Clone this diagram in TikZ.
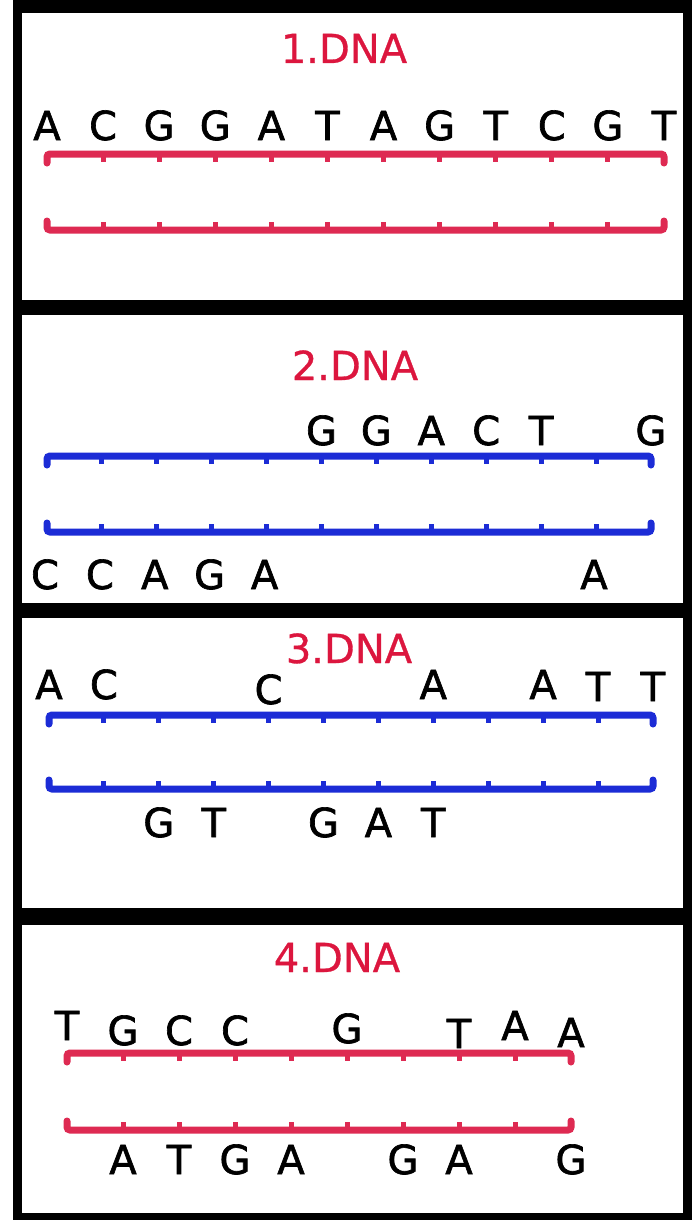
\documentclass[tikz,border=0pt]{standalone}
\usepackage{fontspec}
\newfontfamily\dnafont[FakeBold=1.6]{DejaVu Sans}
\newfontfamily\dnatitlefont[FakeBold=0.8]{DejaVu Sans}
\definecolor{dnared}{RGB}{222,42,82}
\definecolor{titlered}{RGB}{220,22,62}
\definecolor{dnablue}{RGB}{28,44,214}
\tikzset{
  strandline/.style={line width=7pt,line cap=round,rounded corners=3pt},
  strandtick/.style={line width=5pt},
  letter/.style={font=\dnafont\fontsize{40}{40}\selectfont,anchor=base,inner sep=0pt,text=black},
  title/.style={font=\dnatitlefont\fontsize{40}{40}\selectfont,anchor=base,inner sep=0pt,text=titlered},
  panel/.style={fill=white,draw=none}
}
% #1 x0, #2 x1, #3 n, #4 y, #5 dir, #6 colour
\newcommand\dnastrand[6]{%
  \pgfmathsetmacro\dstep{(#2-#1)/(#3-1)}%
  \pgfmathtruncatemacro\dlast{#3-1}%
  \draw[strandline,#6] (#1,#4+#5*9) -- (#1,#4) -- (#2,#4) -- (#2,#4+#5*9);
  \foreach \k in {1,...,\dlast}{\draw[strandtick,#6] ({#1+\k*\dstep},#4) -- ++(0,#5*8);}
}
\begin{document}
\begin{tikzpicture}[x=1pt,y=-1pt]
\useasboundingbox (0,0) rectangle (697,1220);
\fill[white] (0,0) rectangle (697,1220);
% frame
\fill[black] (13,0) rectangle (692,1220);
\fill[panel] (22,13) rectangle (683,300);
\fill[panel] (22,315) rectangle (683,603);
\fill[panel] (22,618) rectangle (683,908);
\fill[panel] (22,925) rectangle (683,1213);

% ---------- panel 1 ----------
\node[title] (t1) at (344,63) {1.DNA};
\dnastrand{47}{664}{12}{154}{1}{dnared}
\dnastrand{47}{664}{12}{230}{-1}{dnared}
\foreach \i/\c in {0/A,1/C,2/G,3/G,4/A,5/T,6/A,7/G,8/T,9/C,10/G,11/T}
  \node[letter] (p1t\i) at ({47+\i*56.09},140) {\c};

% ---------- panel 2 ----------
\node[title] (t2) at (355,380) {2.DNA};
\dnastrand{47}{651}{12}{456}{1}{dnablue}
\dnastrand{47}{651}{12}{532}{-1}{dnablue}
\foreach \i/\c in {5/G,6/G,7/A,8/C,9/T,11/G}
  \node[letter] (p2t\i) at ({47+\i*54.9},445) {\c};
\foreach \i/\c in {0/C,1/C,2/A,3/G,4/A,10/A}
  \node[letter] (p2b\i) at ({45+\i*54.9},589) {\c};

% ---------- panel 3 ----------
\node[title] (t3) at (349,663) {3.DNA};
\dnastrand{49}{653}{12}{715}{1}{dnablue}
\dnastrand{49}{653}{12}{789}{-1}{dnablue}
\foreach \i/\c/\yy in {0/A/699,1/C/699,4/C/704,7/A/699,9/A/699,10/T/701,11/T/701}
  \node[letter] (p3t\i) at ({49+\i*54.9},\yy) {\c};
\foreach \i/\c in {2/G,3/T,5/G,6/A,7/T}
  \node[letter] (p3b\i) at ({49+\i*54.9},837) {\c};

% ---------- panel 4 ----------
\node[title] (t4) at (337,972) {4.DNA};
\dnastrand{67}{571}{10}{1053}{1}{dnared}
\dnastrand{67}{571}{10}{1130}{-1}{dnared}
\foreach \i/\c/\yy in {0/T/1040,1/G/1045,2/C/1045,3/C/1045,5/G/1043,7/T/1048,8/A/1040,9/A/1047}
  \node[letter] (p4t\i) at ({67+\i*56},\yy) {\c};
\foreach \i/\c in {1/A,2/T,3/G,4/A,6/G,7/A,9/G}
  \node[letter] (p4b\i) at ({67+\i*56},1174) {\c};
\end{tikzpicture}
\end{document}
